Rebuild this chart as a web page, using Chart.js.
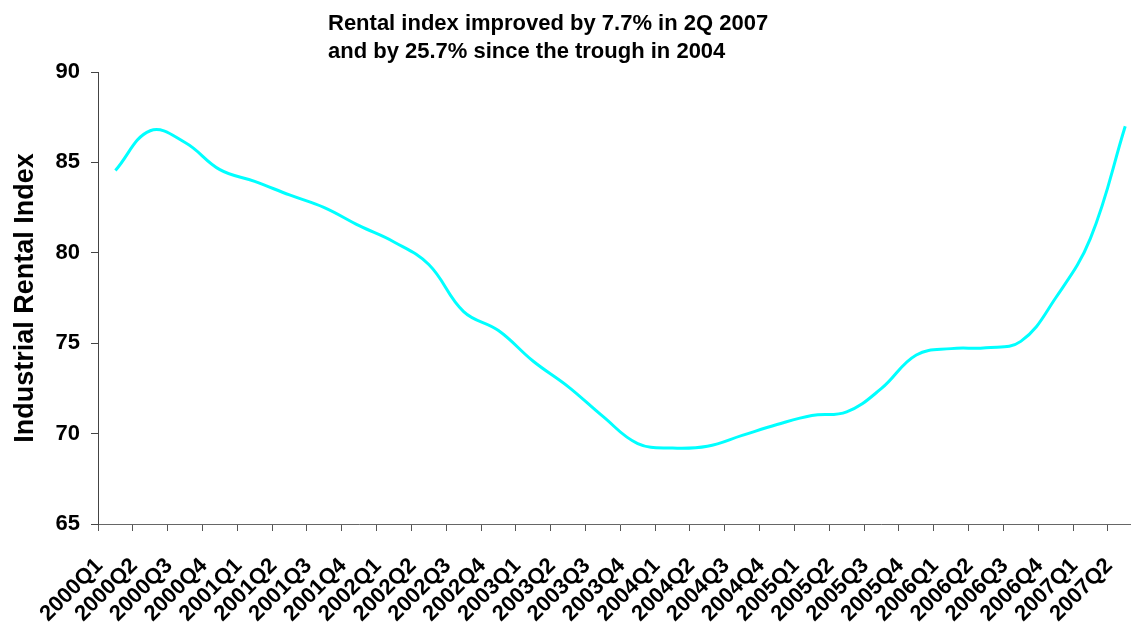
<!DOCTYPE html>
<html>
<head>
<meta charset="utf-8">
<script src="https://cdn.jsdelivr.net/npm/chart.js@4.4.1/dist/chart.umd.min.js"></script>
<style>
  html, body { margin: 0; padding: 0; background: #fff; overflow: hidden; width: 1131px; height: 624px; }
  #wrap { position: absolute; left: 0; top: 0; width: 1166px; height: 624px; }
  canvas { display: block; }
</style>
</head>
<body>
<div id="wrap"><canvas id="c" width="1166" height="624"></canvas></div>
<script>
const categories = [
  '2000Q1','2000Q2','2000Q3','2000Q4',
  '2001Q1','2001Q2','2001Q3','2001Q4',
  '2002Q1','2002Q2','2002Q3','2002Q4',
  '2003Q1','2003Q2','2003Q3','2003Q4',
  '2004Q1','2004Q2','2004Q3','2004Q4',
  '2005Q1','2005Q2','2005Q3','2005Q4',
  '2006Q1','2006Q2','2006Q3','2006Q4',
  '2007Q1','2007Q2'
];
const rentalIndex = [
  84.55, 86.75, 86.1, 84.6,
  83.95, 83.2, 82.5, 81.5,
  80.6, 79.35, 76.75, 75.7,
  74.0, 72.6, 70.95, 69.45,
  69.2, 69.3, 69.9, 70.5,
  71.0, 71.2, 72.5, 74.35,
  74.7, 74.75, 75.1, 77.5,
  80.8, 87.0
];
const yTicks = [65, 70, 75, 80, 85, 90];
const titleLines = ['Rental index improved by 7.7% in 2Q 2007', 'and by 25.7% since the trough in 2004'];
const yAxisTitle = 'Industrial Rental Index';

const FONT = "'Liberation Sans', Arial, Helvetica, sans-serif";

const titlePlugin = {
  id: 'leftTitle',
  afterDraw(chart) {
    const ctx = chart.ctx;
    ctx.save();
    ctx.fillStyle = '#000';
    ctx.font = 'bold 22px ' + FONT;
    ctx.textAlign = 'left';
    ctx.textBaseline = 'alphabetic';
    ctx.fillText(titleLines[0], 328, 30);
    ctx.fillText(titleLines[1], 328, 58);
    ctx.restore();
  }
};

new Chart(document.getElementById('c'), {
  type: 'line',
  data: {
    labels: categories,
    datasets: [{
      data: rentalIndex,
      borderColor: '#00FFFF',
      borderWidth: 3,
      pointRadius: 0,
      pointHoverRadius: 0,
      tension: 0.4,
      fill: false
    }]
  },
  options: {
    responsive: false,
    animation: false,
    layout: { padding: { top: 72, right: 6, bottom: 0, left: 0 } },
    plugins: {
      legend: { display: false },
      tooltip: { enabled: false },
      title: { display: false }
    },
    scales: {
      x: {
        type: 'category',
        offset: true,
        grid: { offset: true, drawOnChartArea: false, drawTicks: true, tickLength: 7, color: '#555' },
        border: { display: true, color: '#666', width: 1 },
        ticks: {
          autoSkip: false,
          maxRotation: 45,
          minRotation: 45,
          color: '#000',
          font: { family: FONT, size: 22, weight: 'bold' },
          padding: 22,
          labelOffset: -16
        },
        afterFit(scale) { scale.height = 100; }
      },
      y: {
        min: 65,
        max: 90,
        afterBuildTicks(scale) { scale.ticks = yTicks.map(v => ({ value: v })); },
        grid: { drawOnChartArea: false, drawTicks: true, tickLength: 7, color: '#444' },
        border: { display: true, color: '#444', width: 1 },
        ticks: {
          color: '#000',
          font: { family: FONT, size: 22, weight: 'bold' },
          padding: 11
        },
        title: {
          display: true,
          text: yAxisTitle,
          color: '#000',
          font: { family: FONT, size: 27, weight: 'bold' },
          padding: { top: 9, bottom: 0 }
        },
        afterFit(scale) { scale.width = 98; }
      }
    }
  },
  plugins: [titlePlugin]
});
</script>
</body>
</html>
